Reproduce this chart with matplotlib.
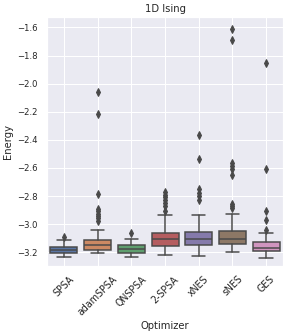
import colorsys
import matplotlib
matplotlib.use('Agg')
import matplotlib.pyplot as plt
import seaborn as sns

# box statistics (Energy per optimizer)
optimizers = ['SPSA', 'adamSPSA', 'QNSPSA', '2-SPSA', 'xNES', 'sNES', 'GES']
q1 = [-3.205, -3.183, -3.202, -3.154, -3.149, -3.145, -3.193]
med = [-3.185, -3.147, -3.178, -3.108, -3.106, -3.104, -3.169]
q3 = [-3.165, -3.116, -3.149, -3.060, -3.058, -3.048, -3.125]
whislo = [-3.235, -3.202, -3.234, -3.217, -3.227, -3.198, -3.239]
whishi = [-3.115, -3.039, -3.106, -2.937, -2.937, -2.925, -3.065]
fliers = [
    [-3.089],
    [-2.062, -2.217, -2.788, -2.892, -2.908, -2.925, -2.942, -2.957, -2.976],
    [-3.060],
    [-2.77, -2.79, -2.81, -2.83, -2.85, -2.87, -2.905],
    [-2.367, -2.538, -2.75, -2.775, -2.80, -2.83],
    [-1.612, -1.686, -2.565, -2.585, -2.605, -2.652, -2.855, -2.87, -2.885],
    [-1.855, -2.607, -2.904, -2.971, -3.039],
]

sns.set_theme(style='darkgrid')
plt.rcParams['font.family'] = ['DejaVu Sans']

palette = [sns.desaturate(c, 0.75) for c in sns.color_palette('deep', len(optimizers))]
lum = min(colorsys.rgb_to_hls(*c)[1] for c in palette) * 0.6
gray = matplotlib.colors.rgb2hex((lum, lum, lum))

fig = plt.figure(figsize=(287 / 72, 335 / 72), dpi=72)
ax = fig.add_axes([0.164, 0.206, 0.822, 0.743])

stats = []
for i, name in enumerate(optimizers):
    stats.append({'label': name, 'q1': q1[i], 'med': med[i], 'q3': q3[i],
                  'whislo': whislo[i], 'whishi': whishi[i], 'fliers': fliers[i]})

lw = 1.5
bp = ax.bxp(stats, positions=range(len(optimizers)), widths=0.8, patch_artist=True,
            boxprops=dict(edgecolor=gray, linewidth=lw),
            medianprops=dict(color=gray, linewidth=lw),
            whiskerprops=dict(color=gray, linewidth=lw),
            capprops=dict(color=gray, linewidth=lw),
            flierprops=dict(marker='d', markerfacecolor=gray, markeredgecolor=gray,
                            markersize=5, linestyle='none'))
for patch, col in zip(bp['boxes'], palette):
    patch.set_facecolor(col)

ax.set_xlim(-0.5, len(optimizers) - 0.5)
ax.set_ylim(-3.298, -1.526)
ax.set_yticks([-1.6, -1.8, -2.0, -2.2, -2.4, -2.6, -2.8, -3.0, -3.2])
ax.set_xticks(range(len(optimizers)))
ax.set_xticklabels(optimizers, rotation=45)
ax.tick_params(axis='y', labelsize=8.5, pad=3)
ax.tick_params(axis='x', labelsize=9.5, pad=2)
ax.set_xlabel('Optimizer', fontsize=10)
ax.set_ylabel('Energy', fontsize=10)
ax.set_title('1D Ising', fontsize=10, pad=5)

fig.savefig('out.png', dpi=72)
